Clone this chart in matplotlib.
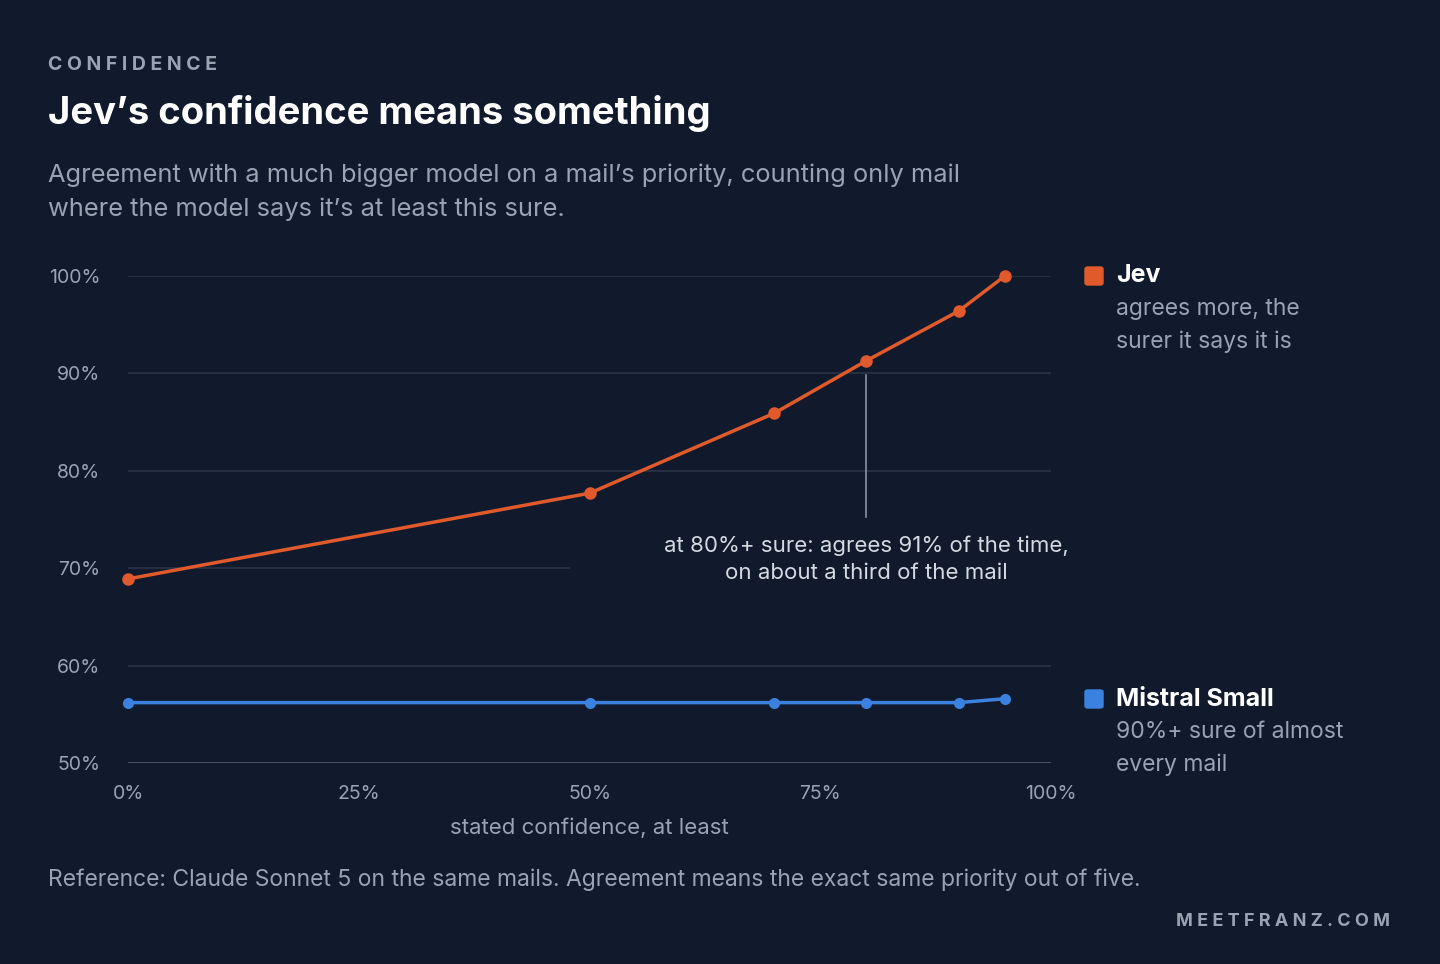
import matplotlib
matplotlib.use("Agg")
import matplotlib.pyplot as plt

thresholds = [0, 50, 70, 80, 90, 95]
jev = [68.9, 77.7, 85.9, 91.3, 96.4, 100.0]
mistral = [56.2, 56.2, 56.2, 56.2, 56.2, 56.6]
yticks = [50, 60, 70, 80, 90, 100]
xticks = [0, 25, 50, 75, 100]

BG = "#111a2c"
ORANGE = "#e05a2b"
BLUE = "#3b82e0"
GRID = "#2a3447"
TXT = "#9aa3b2"
plt.rcParams['font.family'] = ['Inter', 'DejaVu Sans']

fig = plt.figure(figsize=(14.4, 9.64), dpi=100, facecolor=BG)
ax = fig.add_axes([128/1440, 1-763/964, (1051-128)/1440, (763-276)/964])
ax.set_facecolor(BG)
ax.set_xlim(0, 100); ax.set_ylim(50, 100)
for s in ax.spines.values(): s.set_visible(False)
for y in yticks[1:]:
    if y == 70:
        ax.plot([0, 47.8], [y, y], color=GRID, lw=1.2, zorder=1)
    else:
        ax.axhline(y, color=GRID, lw=1.2, zorder=1)
ax.axhline(50, color="#5a6478", lw=1.8, zorder=1)
ax.set_yticks(yticks); ax.set_yticklabels([f"{v}%" for v in yticks])
ax.set_xticks(xticks); ax.set_xticklabels([f"{v}%" for v in xticks])
ax.tick_params(length=0, colors=TXT, labelsize=14, pad=16)
ax.tick_params(axis='y', pad=20)
ax.set_xlabel("stated confidence, at least", color=TXT, fontsize=16)
ax.xaxis.set_label_coords(0.5, -(828-763)/487)
ax.xaxis.label.set_va('center')

ax.plot(thresholds, jev, color=ORANGE, lw=2.5, marker='o', ms=8, clip_on=False, zorder=3)
ax.plot(thresholds, mistral, color=BLUE, lw=2.5, marker='o', ms=8, clip_on=False, zorder=3,
        markeredgewidth=0)
ax.plot([80, 80], [89.8, 75.3], color="#8a93a3", lw=1.2, zorder=2)
ax.text(80, 70.9, "at 80%+ sure: agrees 91% of the time,\non about a third of the mail",
        ha='center', va='center', color="#d5dae2", fontsize=16, linespacing=1.45)

fig.text(48/1440, 1-65/964, "C O N F I D E N C E", color=TXT, fontsize=14, weight='bold', va='center')
fig.text(48/1440, 1-114/964, "Jev’s confidence means something", color="white", fontsize=27.5, weight='bold', va='center')
fig.text(48/1440, 1-192/964, "Agreement with a much bigger model on a mail’s priority, counting only mail\nwhere the model says it’s at least this sure.",
         color=TXT, fontsize=18.3, va='center', linespacing=1.55)
fig.text(48/1440, 1-880/964, "Reference: Claude Sonnet 5 on the same mails. Agreement means the exact same priority out of five.",
         color=TXT, fontsize=16.5, va='center')
fig.text(1390/1440, 1-921/964, "M E E T F R A N Z . C O M", color=TXT, fontsize=13, weight='bold', ha='right', va='center')

for (yy, col, name, sub) in [(276, ORANGE, "Jev", "agrees more, the\nsurer it says it is"),
                             (699, BLUE, "Mistral Small", "90%+ sure of almost\nevery mail")]:
    fig.patches.append(matplotlib.patches.FancyBboxPatch((1085/1440, 1-(yy+9)/964), 18/1440, 18/964,
                       boxstyle="round,pad=0,rounding_size=0.002", transform=fig.transFigure, color=col))
    fig.text(1116/1440, 1-yy/964, name, color="white", fontsize=18, weight='bold', va='center')
    fig.text(1116/1440, 1-(yy+22)/964, sub, color=TXT, fontsize=16.5, va='top', linespacing=1.62)

fig.savefig("out.png", dpi=100, facecolor=BG)
